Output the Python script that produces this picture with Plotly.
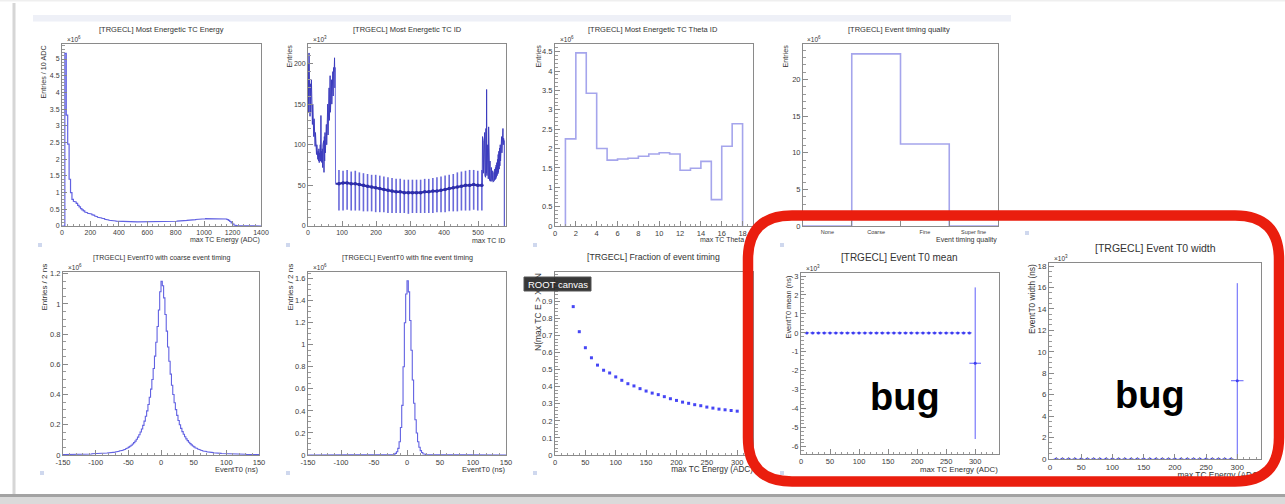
import numpy as np
import plotly.graph_objects as go

W, H = 1285, 504
FONT = "Liberation Sans"

# ---------------- data ----------------
# P1: Most energetic TC energy, 10 ADC bins from 0 to 1400 (x10^6 entries)
energy_counts = [
    0, 0, 5.17, 3.32, 2.45, 1.40, 1.00, 0.80, 0.74, 0.72,
    0.68, 0.62, 0.57, 0.52, 0.48, 0.45, 0.42, 0.40, 0.38, 0.37,
    0.36, 0.34, 0.32, 0.30, 0.28, 0.26, 0.25, 0.24, 0.23, 0.22,
    0.20, 0.19, 0.18, 0.17, 0.165, 0.16, 0.155, 0.15, 0.145, 0.142,
    0.140, 0.138, 0.136, 0.134, 0.132, 0.130, 0.129, 0.128, 0.127, 0.126,
    0.125, 0.124, 0.123, 0.122, 0.122, 0.121, 0.121, 0.120, 0.120, 0.120,
    0.120, 0.120, 0.120, 0.120, 0.121, 0.121, 0.122, 0.122, 0.123, 0.124,
    0.125, 0.126, 0.127, 0.128, 0.130, 0.132, 0.134, 0.136, 0.138, 0.140,
    0.142, 0.145, 0.148, 0.151, 0.154, 0.158, 0.162, 0.166, 0.170, 0.174,
    0.178, 0.182, 0.186, 0.190, 0.194, 0.198, 0.202, 0.206, 0.210, 0.213,
    0.216, 0.219, 0.222, 0.224, 0.226, 0.228, 0.229, 0.230, 0.231, 0.231,
    0.231, 0.230, 0.228, 0.225, 0.220, 0.210, 0.195, 0.170, 0.135, 0.095,
    0.060, 0.030, 0.012, 0.004, 0.001, 0, 0, 0, 0, 0,
    0, 0, 0, 0, 0, 0, 0, 0, 0, 0,
]
energy_bin_width = 10

# P2: Most energetic TC ID (x10^3 entries)
tcid_forward = [  # TC ID 1..80
    200, 140, 213, 150, 190, 135, 175, 140, 168, 180,
    130, 160, 125, 150, 118, 140, 110, 132, 105, 120,
    98, 115, 92, 108, 88, 100, 84, 96, 82, 92,
    80, 95, 78, 90, 85, 100, 80, 136, 79, 92,
    78, 95, 72, 100, 70, 105, 66, 110, 80, 115,
    90, 120, 95, 125, 100, 140, 105, 150, 112, 160,
    120, 170, 130, 175, 185, 140, 178, 145, 180, 150,
    185, 155, 190, 160, 195, 165, 190, 207, 170, 195,
]
tcid_barrel_hi = [69, 68, 69, 67, 68, 66, 65, 64, 63, 63, 62, 61, 60, 59, 58, 58, 57, 57,
                  57, 57, 57, 58, 58, 59, 60, 61, 62, 63, 64, 66, 67, 68, 69, 69, 68, 69]
tcid_barrel_lo = [19, 19, 20, 19, 19, 19, 18, 18, 18, 17, 17, 17, 16, 16, 16, 16, 16, 15,
                  16, 16, 16, 16, 16, 16, 17, 17, 17, 18, 18, 18, 19, 19, 19, 20, 19, 19]
tcid_barrel_mid = [52, 53, 53, 52, 52, 51, 50, 49, 48, 47, 46, 45, 44, 43, 42, 42, 41, 41,
                   41, 41, 41, 42, 42, 43, 43, 44, 45, 46, 47, 48, 49, 50, 50, 51, 50, 50]
tcid_backward = [  # TC ID 513..576
    110, 70, 105, 65, 100, 68, 115, 62, 95, 60,
    120, 65, 168, 62, 100, 60, 92, 58, 122, 57,
    85, 56, 80, 55, 75, 58, 72, 55, 70, 56,
    68, 54, 65, 55, 66, 56, 70, 57, 72, 58,
    75, 60, 78, 62, 82, 64, 88, 66, 92, 70,
    96, 74, 100, 80, 105, 85, 110, 90, 112, 95,
    120, 100, 108, 105,
]

# P3: theta ID 1..17 (x10^6)
theta_counts = [2.25, 4.47, 3.43, 2.00, 1.70, 1.73, 1.75, 1.80, 1.86, 1.89,
                1.86, 1.44, 1.49, 1.67, 0.68, 2.06, 2.64]

# P4: event timing quality (x10^6)
quality_labels = ["None", "Coarse", "Fine", "Super fine"]
quality_counts = [0, 23.5, 11.2, 0]

# P5: EventT0 coarse timing, 2 ns bins -150..150 (x10^6)
coarse_t0_counts = [
    0.003, 0.003, 0.003, 0.003, 0.004, 0.004, 0.004, 0.004, 0.004, 0.005,
    0.005, 0.005, 0.005, 0.005, 0.006, 0.006, 0.006, 0.006, 0.007, 0.007,
    0.007, 0.007, 0.008, 0.008, 0.008,
    0.009, 0.009, 0.010, 0.010, 0.011, 0.011, 0.012, 0.012, 0.013, 0.014,
    0.015, 0.016, 0.017, 0.018, 0.019, 0.020, 0.022, 0.024, 0.026, 0.028,
    0.031, 0.034, 0.038, 0.042, 0.047, 0.052, 0.058, 0.065, 0.073, 0.082,
    0.092, 0.104, 0.118, 0.134, 0.152, 0.172, 0.196, 0.224, 0.256, 0.292,
    0.334, 0.382, 0.436, 0.500, 0.572, 0.654, 0.746, 0.850, 0.960, 1.080,
    1.150, 1.120, 1.040, 0.930, 0.820, 0.715, 0.620, 0.535, 0.462, 0.400,
    0.346, 0.300, 0.262, 0.228, 0.200, 0.176, 0.155, 0.137, 0.121, 0.107,
    0.095, 0.084, 0.075, 0.067, 0.060, 0.054, 0.048, 0.043, 0.039, 0.035,
    0.032, 0.029, 0.027, 0.025, 0.023, 0.021, 0.019, 0.018, 0.017, 0.016,
    0.015, 0.014, 0.013, 0.012, 0.011, 0.011, 0.010, 0.010, 0.009, 0.009,
    0.008, 0.008, 0.008, 0.007, 0.007, 0.007, 0.006, 0.006, 0.006, 0.006,
    0.005, 0.005, 0.005, 0.005, 0.005, 0.004, 0.004, 0.004, 0.004, 0.004,
    0.003, 0.003, 0.003, 0.003, 0.003,
]

# P6: EventT0 fine timing, 2 ns bins -150..150 (x10^6)
fine_t0_counts = [
    0, 0, 0, 0, 0, 0, 0, 0, 0, 0,
    0, 0, 0, 0, 0, 0, 0, 0, 0, 0,
    0, 0, 0, 0, 0, 0, 0, 0, 0, 0,
    0, 0, 0, 0, 0, 0, 0, 0, 0, 0,
    0, 0, 0, 0, 0, 0, 0, 0, 0, 0,
    0, 0, 0, 0, 0, 0.001, 0.001, 0.001, 0.001, 0.001,
    0.001, 0.002, 0.002, 0.003, 0.005,
    0.008, 0.015, 0.030, 0.060, 0.120, 0.250, 0.450, 0.800, 1.200, 1.460,
    1.580, 1.480, 1.220, 0.950, 0.680, 0.470, 0.320, 0.200, 0.120, 0.070,
    0.040, 0.022, 0.012, 0.007, 0.004, 0.003, 0.002, 0.002, 0.001, 0.001,
    0.001, 0.001, 0.001, 0.001, 0.001, 0, 0, 0, 0, 0,
    0, 0, 0, 0, 0, 0, 0, 0, 0, 0,
    0, 0, 0, 0, 0, 0, 0, 0, 0, 0,
    0, 0, 0, 0, 0, 0, 0, 0, 0, 0,
    0, 0, 0, 0, 0, 0, 0, 0, 0, 0,
    0, 0, 0, 0, 0,
]

# P7: fraction of event timing
frac_energy = [30, 40, 50, 60, 70, 80, 90, 100, 110, 120, 130, 140, 150, 160,
               170, 180, 190, 200, 210, 220, 230, 240, 250, 260, 270, 280, 290, 300]
frac_values = [0.870, 0.723, 0.629, 0.570, 0.527, 0.497, 0.481, 0.458, 0.438, 0.418,
               0.405, 0.389, 0.375, 0.363, 0.354, 0.342, 0.330, 0.320, 0.310, 0.303,
               0.295, 0.289, 0.281, 0.275, 0.269, 0.265, 0.261, 0.257]

# P8 / P9: Event T0 mean / width vs max TC energy (x10^3 ns)
t0_energy = [10, 20, 30, 40, 50, 60, 70, 80, 90, 100, 110, 120, 130, 140, 150,
             160, 170, 180, 190, 200, 210, 220, 230, 240, 250, 260, 270, 280, 290, 300]
t0_xerr = [4, 4, 4, 4, 4, 4, 4, 4, 4, 4, 4, 4, 4, 4, 4,
           4, 4, 4, 4, 4, 4, 4, 4, 4, 4, 4, 4, 4, 4, 10]
t0_mean = [0, 0, 0, 0, 0, 0, 0, 0, 0, 0, 0, 0, 0, 0, 0,
           0, 0, 0, 0, 0, 0, 0, 0, 0, 0, 0, 0, 0, 0, -1.6]
t0_mean_err = [0, 0, 0, 0, 0, 0, 0, 0, 0, 0, 0, 0, 0, 0, 0,
               0, 0, 0, 0, 0, 0, 0, 0, 0, 0, 0, 0, 0, 0, 4.0]
t0_width = [0, 0, 0, 0, 0, 0, 0, 0, 0, 0, 0, 0, 0, 0, 0,
            0, 0, 0, 0, 0, 0, 0, 0, 0, 0, 0, 0, 0, 0, 7.3]
t0_width_err = [0, 0, 0, 0, 0, 0, 0, 0, 0, 0, 0, 0, 0, 0, 0,
                0, 0, 0, 0, 0, 0, 0, 0, 0, 0, 0, 0, 0, 0, 9.1]

# ---------------- helpers ----------------
def step_outline(edges, vals):
    xs, ys = [edges[0]], [0]
    for i, v in enumerate(vals):
        xs += [edges[i], edges[i + 1]]
        ys += [v, v]
    xs.append(edges[-1]); ys.append(0)
    return xs, ys

# pixel frames (left, right, top, bottom)
frames = {
    1: (62, 261, 44, 226), 2: (308, 506, 44, 226), 3: (555, 753, 44, 226), 4: (803, 998, 44, 226),
    5: (63, 259, 272, 455), 6: (308, 506, 272, 455), 7: (555, 753, 272, 455),
    8: (801, 999, 273, 454), 9: (1049, 1261, 263, 459),
}

AXC = "#8a8a8a"


def make_axis(i, which, rng, dtick, minor_dtick, fs=7, hyphen=False, **kw):
    l, r, t, b = frames[i]
    dom = [l / W, r / W] if which == "x" else [1 - b / H, 1 - t / H]
    anchor = ("y" if i == 1 else f"y{i}") if which == "x" else ("x" if i == 1 else f"x{i}")
    d = dict(domain=dom, range=rng, anchor=anchor, showline=True, mirror=True,
             linecolor=AXC, linewidth=1, ticks="inside", ticklen=5, tickcolor=AXC,
             tickwidth=1, showgrid=False, zeroline=False, fixedrange=True,
             tickfont=dict(family=FONT, size=fs, color="#3c3c3c"))
    if dtick is not None:
        if hyphen:  # ROOT writes negative labels with a plain hyphen
            start = np.ceil(rng[0] / dtick) * dtick
            vals = np.arange(start, rng[1] + 1e-9, dtick)
            d.update(tickmode="array", tickvals=list(vals),
                     ticktext=[f"{v:g}" for v in vals])
        else:
            d.update(tickmode="linear", tick0=0, dtick=dtick)
    if minor_dtick:
        d["minor"] = dict(ticks="inside", ticklen=2.5, tickcolor="#9a9a9a", dtick=minor_dtick,
                          tick0=0, showgrid=False, tickmode="linear")
    d.update(kw)
    return d


fig = go.Figure()

HIST = "rgb(98,98,226)"
HIST_LIGHT = "rgb(165,165,236)"

# P1
xs, ys = step_outline(np.arange(0, 1401, energy_bin_width), energy_counts)
fig.add_trace(go.Scatter(x=xs, y=ys, mode="lines", line=dict(color=HIST, width=1.2),
                         xaxis="x", yaxis="y"))

# P2
fx = np.arange(1, 81)
fig.add_trace(go.Scatter(x=fx, y=tcid_forward, mode="lines",
                         line=dict(color="rgb(60,60,190)", width=1),
                         xaxis="x2", yaxis="y2"))
bx = 81 + 12 * np.arange(36) + 10
mid = np.array(tcid_barrel_mid)
fig.add_trace(go.Scatter(x=bx, y=mid, mode="markers",
                         marker=dict(color="rgb(40,40,165)", size=3.5),
                         error_y=dict(type="data", symmetric=False,
                                      array=np.array(tcid_barrel_hi) - mid,
                                      arrayminus=mid - np.array(tcid_barrel_lo),
                                      color="rgb(105,105,218)", thickness=1.6, width=0),
                         xaxis="x2", yaxis="y2"))
band_x = [fx[-1] + 1] + list(bx) + [512]
band_y = [tcid_barrel_mid[0]] + tcid_barrel_mid + [tcid_barrel_mid[-1]]
fig.add_trace(go.Scatter(x=band_x, y=band_y, mode="lines",
                         line=dict(color="rgb(45,45,170)", width=2.2),
                         xaxis="x2", yaxis="y2"))
fig.add_trace(go.Scatter(x=[fx[-1], fx[-1] + 1], y=[tcid_forward[-1], tcid_barrel_mid[0]],
                         mode="lines", line=dict(color="rgb(110,110,220)", width=1),
                         xaxis="x2", yaxis="y2"))
bwx = list(np.arange(513, 577)) + [577, 577]
bwy = tcid_backward + [tcid_backward[-1], 0]
fig.add_trace(go.Scatter(x=[512] + bwx, y=[tcid_barrel_mid[-1]] + bwy, mode="lines",
                         line=dict(color="rgb(60,60,190)", width=1),
                         xaxis="x2", yaxis="y2"))

# P3
xs, ys = step_outline(np.arange(1, 19), theta_counts)
fig.add_trace(go.Scatter(x=xs, y=ys, mode="lines", line=dict(color=HIST_LIGHT, width=1.6),
                         xaxis="x3", yaxis="y3"))
# P4
xs, ys = step_outline(np.arange(0, 5), quality_counts)
fig.add_trace(go.Scatter(x=xs, y=ys, mode="lines", line=dict(color=HIST_LIGHT, width=1.6),
                         xaxis="x4", yaxis="y4"))
# P5
t0_edges = np.arange(-150, 151, 2)
xs, ys = step_outline(t0_edges, coarse_t0_counts)
fig.add_trace(go.Scatter(x=xs, y=ys, mode="lines", line=dict(color=HIST, width=1.1),
                         xaxis="x5", yaxis="y5"))
# P6
xs, ys = step_outline(t0_edges, fine_t0_counts)
fig.add_trace(go.Scatter(x=xs, y=ys, mode="lines", line=dict(color=HIST, width=1.1),
                         xaxis="x6", yaxis="y6"))
# P7
fig.add_trace(go.Scatter(x=frac_energy, y=frac_values, mode="markers",
                         marker=dict(symbol="square", size=3, color="rgb(70,70,245)"),
                         xaxis="x7", yaxis="y7"))
# P8
ERR = "rgb(95,95,250)"
fig.add_trace(go.Scatter(x=t0_energy, y=t0_mean, mode="markers",
                         marker=dict(size=3, color="rgb(60,60,240)"),
                         error_x=dict(type="data", array=t0_xerr, color=ERR, thickness=1, width=0),
                         error_y=dict(type="data", array=t0_mean_err, color=ERR, thickness=1, width=0),
                         xaxis="x8", yaxis="y8"))
# P9
fig.add_trace(go.Scatter(x=t0_energy, y=t0_width, mode="markers",
                         marker=dict(size=3, color="rgb(60,60,240)"),
                         error_x=dict(type="data", array=t0_xerr, color=ERR, thickness=1, width=0),
                         error_y=dict(type="data", array=t0_width_err, color=ERR, thickness=1, width=0),
                         xaxis="x9", yaxis="y9"))

# texts that sit partly under the red marker frame (text trace on an overlay axis)
fig.add_trace(go.Scatter(x=[753, 753, 1261], y=[240, 470, 476], mode="text",
                         text=["max TC Theta ID", "max TC Energy (ADC)", "max TC Energy (ADC)"],
                         textposition="middle left",
                         textfont=dict(family=FONT, size=[7, 8.2, 8.4], color="#333"),
                         xaxis="x10", yaxis="y10"))

layout = dict(width=W, height=H, margin=dict(l=0, r=0, t=0, b=0), template="none",
              paper_bgcolor="white", plot_bgcolor="rgba(0,0,0,0)", showlegend=False)

layout["xaxis"] = make_axis(1, "x", [0, 1400], 200, 40)
layout["yaxis"] = make_axis(1, "y", [0, 5.45], 0.5, 0.1)
layout["xaxis2"] = make_axis(2, "x", [0, 582], 100, 20)
layout["yaxis2"] = make_axis(2, "y", [0, 224], 50, 10)
layout["xaxis3"] = make_axis(3, "x", [0, 19], 2, 0.5, fs=7.5)
layout["yaxis3"] = make_axis(3, "y", [0, 4.7], 0.5, 0.1, fs=7.5)
layout["xaxis4"] = make_axis(4, "x", [0, 4], None, None, fs=5.5, tickmode="array",
                             tickvals=[0.5, 1.5, 2.5, 3.5], ticktext=quality_labels, ticks="",
                             minor=dict(tickmode="array", tickvals=[1, 2, 3], ticks="inside",
                                        ticklen=5, tickcolor=AXC))
layout["yaxis4"] = make_axis(4, "y", [0, 24.85], 5, 1, fs=7.5)
layout["xaxis5"] = make_axis(5, "x", [-150, 150], 50, 10, fs=7.5, hyphen=True)
layout["yaxis5"] = make_axis(5, "y", [0, 1.211], 0.2, 0.05, fs=7.5)
layout["xaxis6"] = make_axis(6, "x", [-150, 150], 50, 10, fs=7.5, hyphen=True)
layout["yaxis6"] = make_axis(6, "y", [0, 1.66], 0.2, 0.05, fs=7.5)
layout["xaxis7"] = make_axis(7, "x", [0, 326], 50, 10, fs=7.5)
layout["yaxis7"] = make_axis(7, "y", [0, 1.073], 0.1, 0.02, fs=7.5)
layout["xaxis8"] = make_axis(8, "x", [0, 341], 50, 10, fs=7.5)
layout["yaxis8"] = make_axis(8, "y", [-6.39, 3.16], 1, 0.2, fs=7.5, hyphen=True)
layout["xaxis9"] = make_axis(9, "x", [-1.5, 338], 50, 10, fs=8)
layout["yaxis9"] = make_axis(9, "y", [0, 18.28], 2, 0.5, fs=8)
layout["xaxis10"] = dict(domain=[0, 1], range=[0, W], visible=False, anchor="y10", fixedrange=True)
layout["yaxis10"] = dict(domain=[0, 1], range=[H, 0], visible=False, anchor="x10", fixedrange=True)
fig.update_layout(**layout)


# ---------------- decorations ----------------
def px_rect(x0, y0, x1, y1, fill, layer="below", line=None):
    fig.add_shape(type="rect", xref="paper", yref="paper", x0=x0 / W, x1=x1 / W,
                  y0=1 - y1 / H, y1=1 - y0 / H, fillcolor=fill, layer=layer,
                  line=line or dict(width=0))


px_rect(12.5, 3, 15.5, 494, "#d6d6d6")        # left border of the canvas window
px_rect(33, 15, 1011, 21.5, "#eef0f7")        # top strip
px_rect(0, 494, W, 497, "#a3a3a3")            # bottom edge
px_rect(0, 497, W, 504, "#dadada")
px_rect(0, 0, W, 1.5, "#efefef")
for (mx, my) in [(40, 245), (288, 245), (535, 245), (782, 245),
                 (42, 473), (288, 473), (535, 473), (782, 473), (1027, 233)]:
    px_rect(mx - 2, my - 2, mx + 2, my + 2, "#cfd8ee")

# tooltip
px_rect(524, 277, 591, 291, "rgba(38,38,38,0.92)", layer="above",
        line=dict(color="#555", width=1))


def P(x, y):
    return f"{x / W:.5f},{1 - y / H:.5f}"


x0, x1, y0, y1, r = 748, 1279, 215.5, 481.5, 44
path = (f"M {P(x0 + r, y0)} L {P(x1 - r, y0)} Q {P(x1, y0)} {P(x1, y0 + r)} "
        f"L {P(x1, y1 - r)} Q {P(x1, y1)} {P(x1 - r, y1)} L {P(x0 + r, y1)} "
        f"Q {P(x0, y1)} {P(x0, y1 - r)} L {P(x0, y0 + r)} Q {P(x0, y0)} {P(x0 + r, y0)} Z")
fig.add_shape(type="path", xref="paper", yref="paper", path=path, layer="above",
              line=dict(color="rgb(234,30,14)", width=10.5), fillcolor="rgba(0,0,0,0)")


def txt(x, y, s, size, xanchor="center", yanchor="middle", angle=0, color="#333"):
    fig.add_annotation(x=x / W, y=1 - y / H, xref="paper", yref="paper", text=s,
                       showarrow=False, xanchor=xanchor, yanchor=yanchor, textangle=angle,
                       borderpad=0, font=dict(family=FONT, size=size, color=color))


# titles
txt(161, 29, "[TRGECL] Most Energetic TC Energy", 7.5)
txt(407, 29, "[TRGECL] Most Energetic TC ID", 7.5)
txt(653, 29, "[TRGECL] Most Energetic TC Theta ID", 7.5)
txt(899, 29, "[TRGECL] Event timing quality", 7.5)
txt(161, 258, "[TRGECL] EventT0 with coarse event timing", 7)
txt(407, 257, "[TRGECL] EventT0 with fine event timing", 7.2)
txt(653, 257, "[TRGECL] Fraction of event timing", 8.7)
txt(899, 257, "[TRGECL] Event T0 mean", 10)
txt(1155, 248, "[TRGECL] Event T0 width", 10.5)

# exponent labels
for (ex, ey, e) in [(66, 39, "6"), (312, 39, "3"), (559, 39, "6"), (806, 39, "6"),
                    (67, 267, "6"), (312, 267, "6"), (805, 268, "3"), (1053, 258, "3")]:
    txt(ex, ey, f"×10<sup>{e}</sup>", 6.5, xanchor="left")

# x-axis titles
txt(261, 240, "max TC Energy (ADC)", 7, xanchor="right")
txt(506, 240, "max TC ID", 7, xanchor="right")
txt(998, 240, "Event timing quality", 7, xanchor="right")
txt(259, 469, "EventT0 (ns)", 7.5, xanchor="right")
txt(506, 469, "EventT0 (ns)", 7.5, xanchor="right")
txt(999, 469, "max TC Energy (ADC)", 7.8, xanchor="right")

# y-axis titles (rotated, aligned to the top of the axis)
txt(43, 45, "Entries / 10 ADC", 7.2, yanchor="top", angle=-90)
txt(289, 44, "Entries", 7.2, yanchor="top", angle=-90)
txt(538, 44, "Entries", 7.2, yanchor="top", angle=-90)
txt(785, 44, "Entries", 7.2, yanchor="top", angle=-90)
txt(44, 263, "Entries / 2 ns", 8, yanchor="top", angle=-90)
txt(290, 263, "Entries / 2 ns", 8, yanchor="top", angle=-90)
txt(538, 272, "N(max TC E > X) / N", 8.5, yanchor="top", angle=-90)
txt(788, 275, "EventT0 mean (ns)", 7.4, yanchor="top", angle=-90)
txt(1032, 263, "EventT0 width (ns)", 8.4, yanchor="top", angle=-90)

# tooltip text and overlays
txt(557.5, 284, "ROOT canvas", 9.5, color="white")
txt(905, 397, "<b>bug</b>", 38, color="black")
txt(1150, 395, "<b>bug</b>", 38, color="black")

fig.write_html("out.html")
